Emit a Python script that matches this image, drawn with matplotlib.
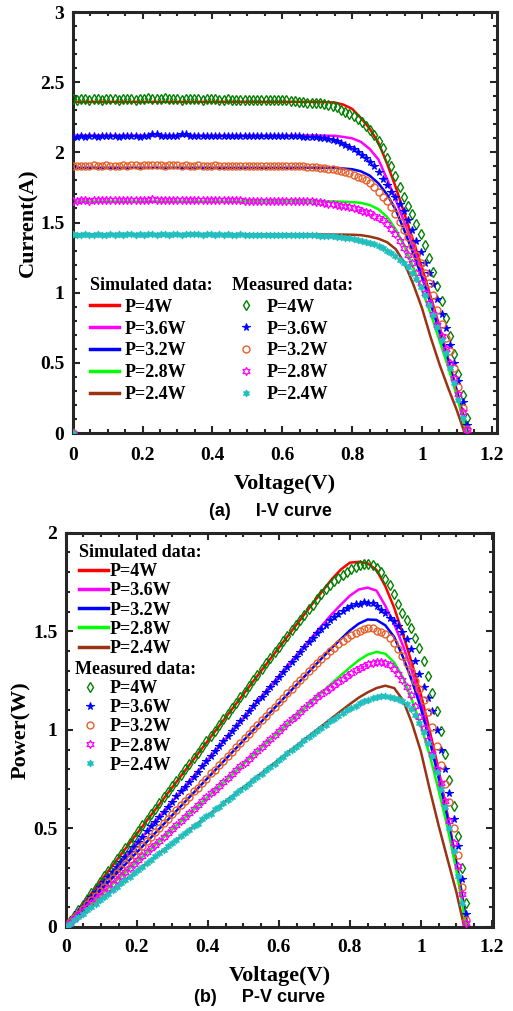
import numpy as np
import matplotlib
matplotlib.use("Agg")
import matplotlib.pyplot as plt
from matplotlib.lines import Line2D
from matplotlib.ticker import MultipleLocator

plt.rcParams['font.family'] = ['Liberation Serif', 'DejaVu Serif']
plt.rcParams['font.weight'] = 'bold'
plt.rcParams['axes.labelweight'] = 'bold'

# ---- simulated curves (I-V) ----
v_sim = [0, 0.5, 0.7, 0.75, 0.775, 0.8, 0.825, 0.85, 0.875, 0.9, 0.925, 0.95,
         0.975, 1.0, 1.025, 1.05, 1.075, 1.1]
voc_sim = [1.132, 1.131, 1.13, 1.128, 1.122]
i_sim_4w = [2.36, 2.36, 2.36, 2.355, 2.34, 2.31, 2.245, 2.17, 2.07, 1.92, 1.75, 1.56,
            1.37, 1.18, 0.97, 0.76, 0.53, 0.30]
i_sim_36w = [2.12, 2.12, 2.12, 2.118, 2.11, 2.10, 2.075, 2.025, 1.95, 1.81, 1.66, 1.50,
             1.33, 1.14, 0.94, 0.74, 0.52, 0.29]
i_sim_32w = [1.89, 1.89, 1.89, 1.89, 1.885, 1.88, 1.865, 1.835, 1.78, 1.70, 1.59, 1.44,
             1.28, 1.11, 0.92, 0.72, 0.51, 0.29]
i_sim_28w = [1.65, 1.65, 1.65, 1.65, 1.648, 1.645, 1.64, 1.625, 1.595, 1.54, 1.45, 1.33,
             1.18, 1.02, 0.85, 0.66, 0.47, 0.26]
i_sim_24w = [1.415, 1.415, 1.415, 1.414, 1.414, 1.413, 1.41, 1.40, 1.385, 1.36, 1.31, 1.21,
             1.06, 0.89, 0.68, 0.49, 0.32, 0.16]

# ---- measured data (I-V), voltage sweep step 0.012 V, first sample at origin ----
v_meas = np.concatenate([[0.0], np.arange(95) * 0.012])
i_meas_4w = [0.0,
    2.38, 2.37, 2.38, 2.38, 2.37, 2.38, 2.38, 2.37, 2.38, 2.38,
    2.38, 2.37, 2.38, 2.38, 2.38, 2.37, 2.38, 2.38, 2.39, 2.38,
    2.38, 2.38, 2.39, 2.38, 2.38, 2.38, 2.37, 2.38, 2.38, 2.38,
    2.38, 2.37, 2.38, 2.38, 2.38, 2.37, 2.37, 2.38, 2.37, 2.37,
    2.37, 2.37, 2.37, 2.37, 2.37, 2.37, 2.37, 2.37, 2.37, 2.37,
    2.37, 2.37, 2.365, 2.365, 2.36, 2.36,
    2.355, 2.355, 2.35, 2.35, 2.345, 2.34, 2.33, 2.32, 2.305, 2.29,
    2.275, 2.26, 2.24, 2.215, 2.19, 2.16, 2.125, 2.08, 2.03, 1.96,
    1.90, 1.83, 1.75, 1.68, 1.62, 1.56, 1.49, 1.42, 1.34, 1.25,
    1.15, 1.05, 0.94, 0.82, 0.69, 0.56, 0.42, 0.27, 0.11]
i_meas_36w = [0.0,
    2.11, 2.11, 2.12, 2.11, 2.12, 2.12, 2.11, 2.12, 2.12, 2.12,
    2.12, 2.11, 2.12, 2.12, 2.12, 2.12, 2.11, 2.12, 2.12, 2.13,
    2.13, 2.12, 2.12, 2.12, 2.12, 2.12, 2.13, 2.13, 2.12, 2.12,
    2.12, 2.12, 2.12, 2.12, 2.12, 2.12, 2.12, 2.12, 2.12, 2.12,
    2.12, 2.12, 2.12, 2.12, 2.12, 2.12, 2.115, 2.115, 2.115, 2.115,
    2.115, 2.115, 2.115, 2.115, 2.115, 2.113,
    2.112, 2.11, 2.108, 2.105, 2.10, 2.095, 2.09, 2.08, 2.07, 2.055,
    2.04, 2.025, 2.005, 1.98, 1.96, 1.93, 1.90, 1.86, 1.81, 1.77,
    1.72, 1.68, 1.63, 1.58, 1.52, 1.45, 1.37, 1.29, 1.21, 1.14,
    1.06, 0.955, 0.85, 0.75, 0.63, 0.50, 0.37, 0.22, 0.06]
i_meas_32w = [0.0,
    1.90, 1.90, 1.90, 1.90, 1.90, 1.91, 1.90, 1.90, 1.91, 1.90,
    1.90, 1.90, 1.91, 1.90, 1.91, 1.91, 1.90, 1.91, 1.91, 1.91,
    1.91, 1.91, 1.90, 1.91, 1.91, 1.91, 1.90, 1.91, 1.90, 1.90,
    1.91, 1.90, 1.90, 1.90, 1.91, 1.90, 1.90, 1.90, 1.90, 1.90,
    1.90, 1.90, 1.90, 1.90, 1.90, 1.90, 1.90, 1.90, 1.90, 1.90,
    1.90, 1.90, 1.90, 1.90, 1.90, 1.90,
    1.898, 1.896, 1.894, 1.89, 1.887, 1.883, 1.88, 1.875, 1.87, 1.862,
    1.852, 1.84, 1.825, 1.815, 1.80, 1.78, 1.755, 1.715, 1.685, 1.65,
    1.61, 1.56, 1.505, 1.45, 1.395, 1.335, 1.27, 1.21, 1.14, 1.07,
    0.985, 0.88, 0.78, 0.68, 0.585, 0.46, 0.33, 0.18, 0.03]
i_meas_28w = [0.0,
    1.65, 1.65, 1.66, 1.66, 1.65, 1.66, 1.66, 1.66, 1.66, 1.66,
    1.66, 1.66, 1.66, 1.66, 1.66, 1.66, 1.66, 1.66, 1.66, 1.67,
    1.66, 1.66, 1.66, 1.66, 1.66, 1.66, 1.66, 1.66, 1.66, 1.66,
    1.66, 1.66, 1.66, 1.66, 1.66, 1.66, 1.66, 1.66, 1.66, 1.66,
    1.66, 1.655, 1.655, 1.655, 1.655, 1.655, 1.655, 1.655, 1.655, 1.655,
    1.655, 1.655, 1.655, 1.655, 1.653, 1.652,
    1.652, 1.65, 1.648, 1.645, 1.64, 1.635, 1.63, 1.625, 1.62, 1.615,
    1.61, 1.60, 1.595, 1.585, 1.575, 1.565, 1.55, 1.535, 1.515, 1.49,
    1.455, 1.415, 1.37, 1.32, 1.27, 1.21, 1.14, 1.07, 1.0, 0.93,
    0.85, 0.77, 0.69, 0.6, 0.5, 0.39, 0.28, 0.15, 0.02]
i_meas_24w = [0.0,
    1.42, 1.41, 1.41, 1.42, 1.41, 1.41, 1.42, 1.41, 1.41, 1.42,
    1.41, 1.42, 1.41, 1.42, 1.42, 1.41, 1.42, 1.41, 1.42, 1.42,
    1.41, 1.42, 1.42, 1.41, 1.42, 1.42, 1.41, 1.42, 1.42, 1.42,
    1.42, 1.41, 1.42, 1.42, 1.41, 1.42, 1.41, 1.42, 1.41, 1.41,
    1.42, 1.41, 1.41, 1.41, 1.41, 1.41, 1.41, 1.41, 1.41, 1.41,
    1.41, 1.412, 1.412, 1.411, 1.41, 1.41,
    1.41, 1.409, 1.408, 1.407, 1.405, 1.403, 1.401, 1.398, 1.395, 1.391,
    1.387, 1.382, 1.376, 1.37, 1.362, 1.354, 1.345, 1.333, 1.318, 1.30,
    1.28, 1.258, 1.235, 1.21, 1.18, 1.14, 1.095, 1.04, 0.98, 0.915,
    0.84, 0.755, 0.665, 0.57, 0.465, 0.355, 0.235, 0.11]

labels = ['P=4W', 'P=3.6W', 'P=3.2W', 'P=2.8W', 'P=2.4W']
sim_colors = ['#ff0000', '#ff00ff', '#0000ff', '#00ff00', '#993311']
sim_currents = [i_sim_4w, i_sim_36w, i_sim_32w, i_sim_28w, i_sim_24w]
meas_currents = [i_meas_4w, i_meas_36w, i_meas_32w, i_meas_28w, i_meas_24w]
meas_styles = [
    dict(marker='d', color='#008000', mfc='none', ms=5, mew=1.0),
    dict(marker='*', color='#0000ff', mfc='#0000ff', ms=5.5, mew=0.8),
    dict(marker='o', color='#e5602a', mfc='none', ms=5, mew=1.0),
    dict(marker=(6, 1, 0), color='#ff00ff', mfc='none', ms=6, mew=0.9),
    dict(marker=(6, 1, 0), color='#22bfbf', mfc='#22bfbf', ms=5, mew=0.8),
]

fig = plt.figure(figsize=(5.13, 10.11), dpi=100)
ax1 = fig.add_axes([0.1417, 0.5717, 0.828, 0.4164])
ax2 = fig.add_axes([0.128, 0.0831, 0.833, 0.39])

for v_end, cur, col in zip(voc_sim, sim_currents, sim_colors):
    v = np.array(v_sim + [v_end])
    i = np.array(cur + [0.0])
    ax1.plot(v, i, color=col, lw=1.8, zorder=2)
    ax2.plot(v, v * i, color=col, lw=1.8, zorder=2)

for cur, st in zip(meas_currents, meas_styles):
    i = np.array(cur)
    v = v_meas[:len(i)]
    ax1.plot(v, i, ls='none', zorder=3, **st)
    ax2.plot(v, v * i, ls='none', zorder=3, **st)


def style_axes(ax, xmax, ymax, ymajor, xpad):
    ax.set_xlim(0, xmax)
    ax.set_ylim(0, ymax)
    ax.xaxis.set_major_locator(MultipleLocator(0.2))
    ax.xaxis.set_minor_locator(MultipleLocator(0.05))
    ax.yaxis.set_major_locator(MultipleLocator(ymajor))
    ax.yaxis.set_minor_locator(MultipleLocator(0.1))
    ax.tick_params(which='both', direction='in', top=True, right=True,
                   labelsize=14, width=1.5, pad=6, color='#262626')
    ax.tick_params(axis='x', which='both', pad=xpad)
    ax.tick_params(which='major', length=5)
    ax.tick_params(which='minor', length=3)
    ax.xaxis.set_major_formatter(plt.FuncFormatter(lambda x, p: f'{x:g}'))
    ax.yaxis.set_major_formatter(plt.FuncFormatter(lambda x, p: f'{x:g}'))
    for s in ax.spines.values():
        s.set_linewidth(2.2)
        s.set_color('#262626')


style_axes(ax1, 1.216, 3, 0.5, 10)
style_axes(ax2, 1.203, 2, 0.5, 9)
ax1.set_xlabel('Voltage(V)', fontsize=16, labelpad=7)
ax1.set_ylabel('Current(A)', fontsize=16, labelpad=1)
ax2.set_xlabel('Voltage(V)', fontsize=16, labelpad=7)
ax2.set_ylabel('Power(W)', fontsize=16, labelpad=1)

sim_handles = [Line2D([], [], color=c, lw=2.5) for c in sim_colors]
meas_handles = [Line2D([], [], ls='none', **st) for st in meas_styles]
leg_kw = dict(frameon=False, alignment='left', fontsize=13, borderpad=0, borderaxespad=0,
              title_fontproperties={'weight': 'bold', 'size': 13})

l1 = ax1.legend(sim_handles, labels, title='Simulated data:', loc='upper left',
                bbox_to_anchor=(0.041, 0.371), handlelength=1.6, handletextpad=0.3,
                labelspacing=0.27, **leg_kw)
ax1.add_artist(l1)
ax1.legend(meas_handles, labels, title='Measured data:', loc='upper left',
           bbox_to_anchor=(0.375, 0.371), handlelength=1.6, handletextpad=0.3,
           labelspacing=0.27, **leg_kw)

l3 = ax2.legend(sim_handles, labels, title='Simulated data:', loc='upper left',
                bbox_to_anchor=(0.031, 0.971), handlelength=1.6, handletextpad=0.1,
                labelspacing=0.12, **leg_kw)
ax2.add_artist(l3)
ax2.legend(meas_handles, labels, title='Measured data:', loc='upper left',
           bbox_to_anchor=(0.022, 0.675), handlelength=1.6, handletextpad=0.3,
           labelspacing=0.12, **leg_kw)

fig.text(0.527, 1 - 511 / 1011, '(a)     I-V curve', ha='center', va='center',
         family='Liberation Sans', weight='bold', fontsize=13)
fig.text(0.505, 1 - 998 / 1011, '(b)     P-V curve', ha='center', va='center',
         family='Liberation Sans', weight='bold', fontsize=13)

fig.savefig('out.png', dpi=100)
